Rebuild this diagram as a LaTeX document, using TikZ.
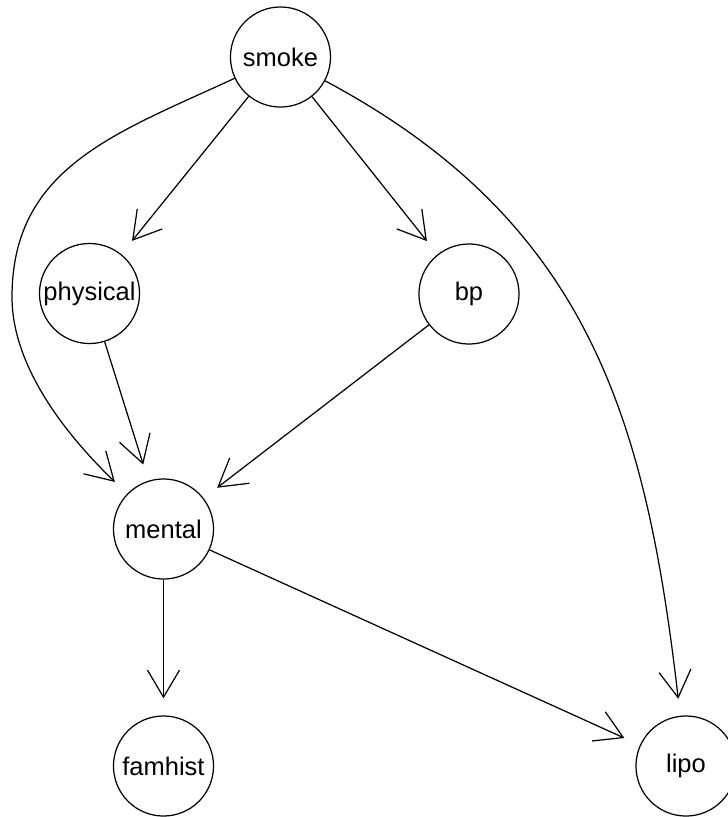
\documentclass[tikz,border=0pt]{standalone}
\usepackage{fontspec}
\setmainfont{Liberation Sans}
\usetikzlibrary{arrows.meta}

\tikzset{
	var/.style={draw, circle, minimum size=1cm, inner sep=0pt, line width=0.35pt,
		font=\fontsize{7.25}{8.7}\selectfont},
	edge/.style={line width=0.35pt, -{Straight Barb[length=2.7mm,width=3.2mm]}, shorten >=1.7mm},
}

\begin{document}
\begin{tikzpicture}[x=0.01cm, y=-0.01cm]
	\useasboundingbox (0,0) rectangle (728,817);

	\node[var] (smoke) at (280.5,57) {smoke};
	\node[var] (physical) at (89.5,293.5) {physical};
	\node[var] (bp) at (469,294) {bp};
	\node[var] (mental) at (163.5,529) {mental};
	\node[var] (famhist) at (163.5,766) {famhist};
	\node[var] (lipo) at (686,766) {lipo};

	\coordinate (left) at (12,297);

	\draw[edge] (smoke) -- (physical);
	\draw[edge] (smoke) -- (bp);
	\draw[edge] (smoke) .. controls (116.7,133) and (12,167) .. (left)
		.. controls (12,377) and (83.6,451.6) .. (mental);
	\draw[edge] (smoke) .. controls (589,221.7) and (646,419) .. (lipo);
	\draw[edge] (physical) -- (mental);
	\draw[edge] (bp) -- (mental);
	\draw[edge] (mental) -- (famhist);
	\draw[edge] (mental) -- (lipo);
\end{tikzpicture}
\end{document}
